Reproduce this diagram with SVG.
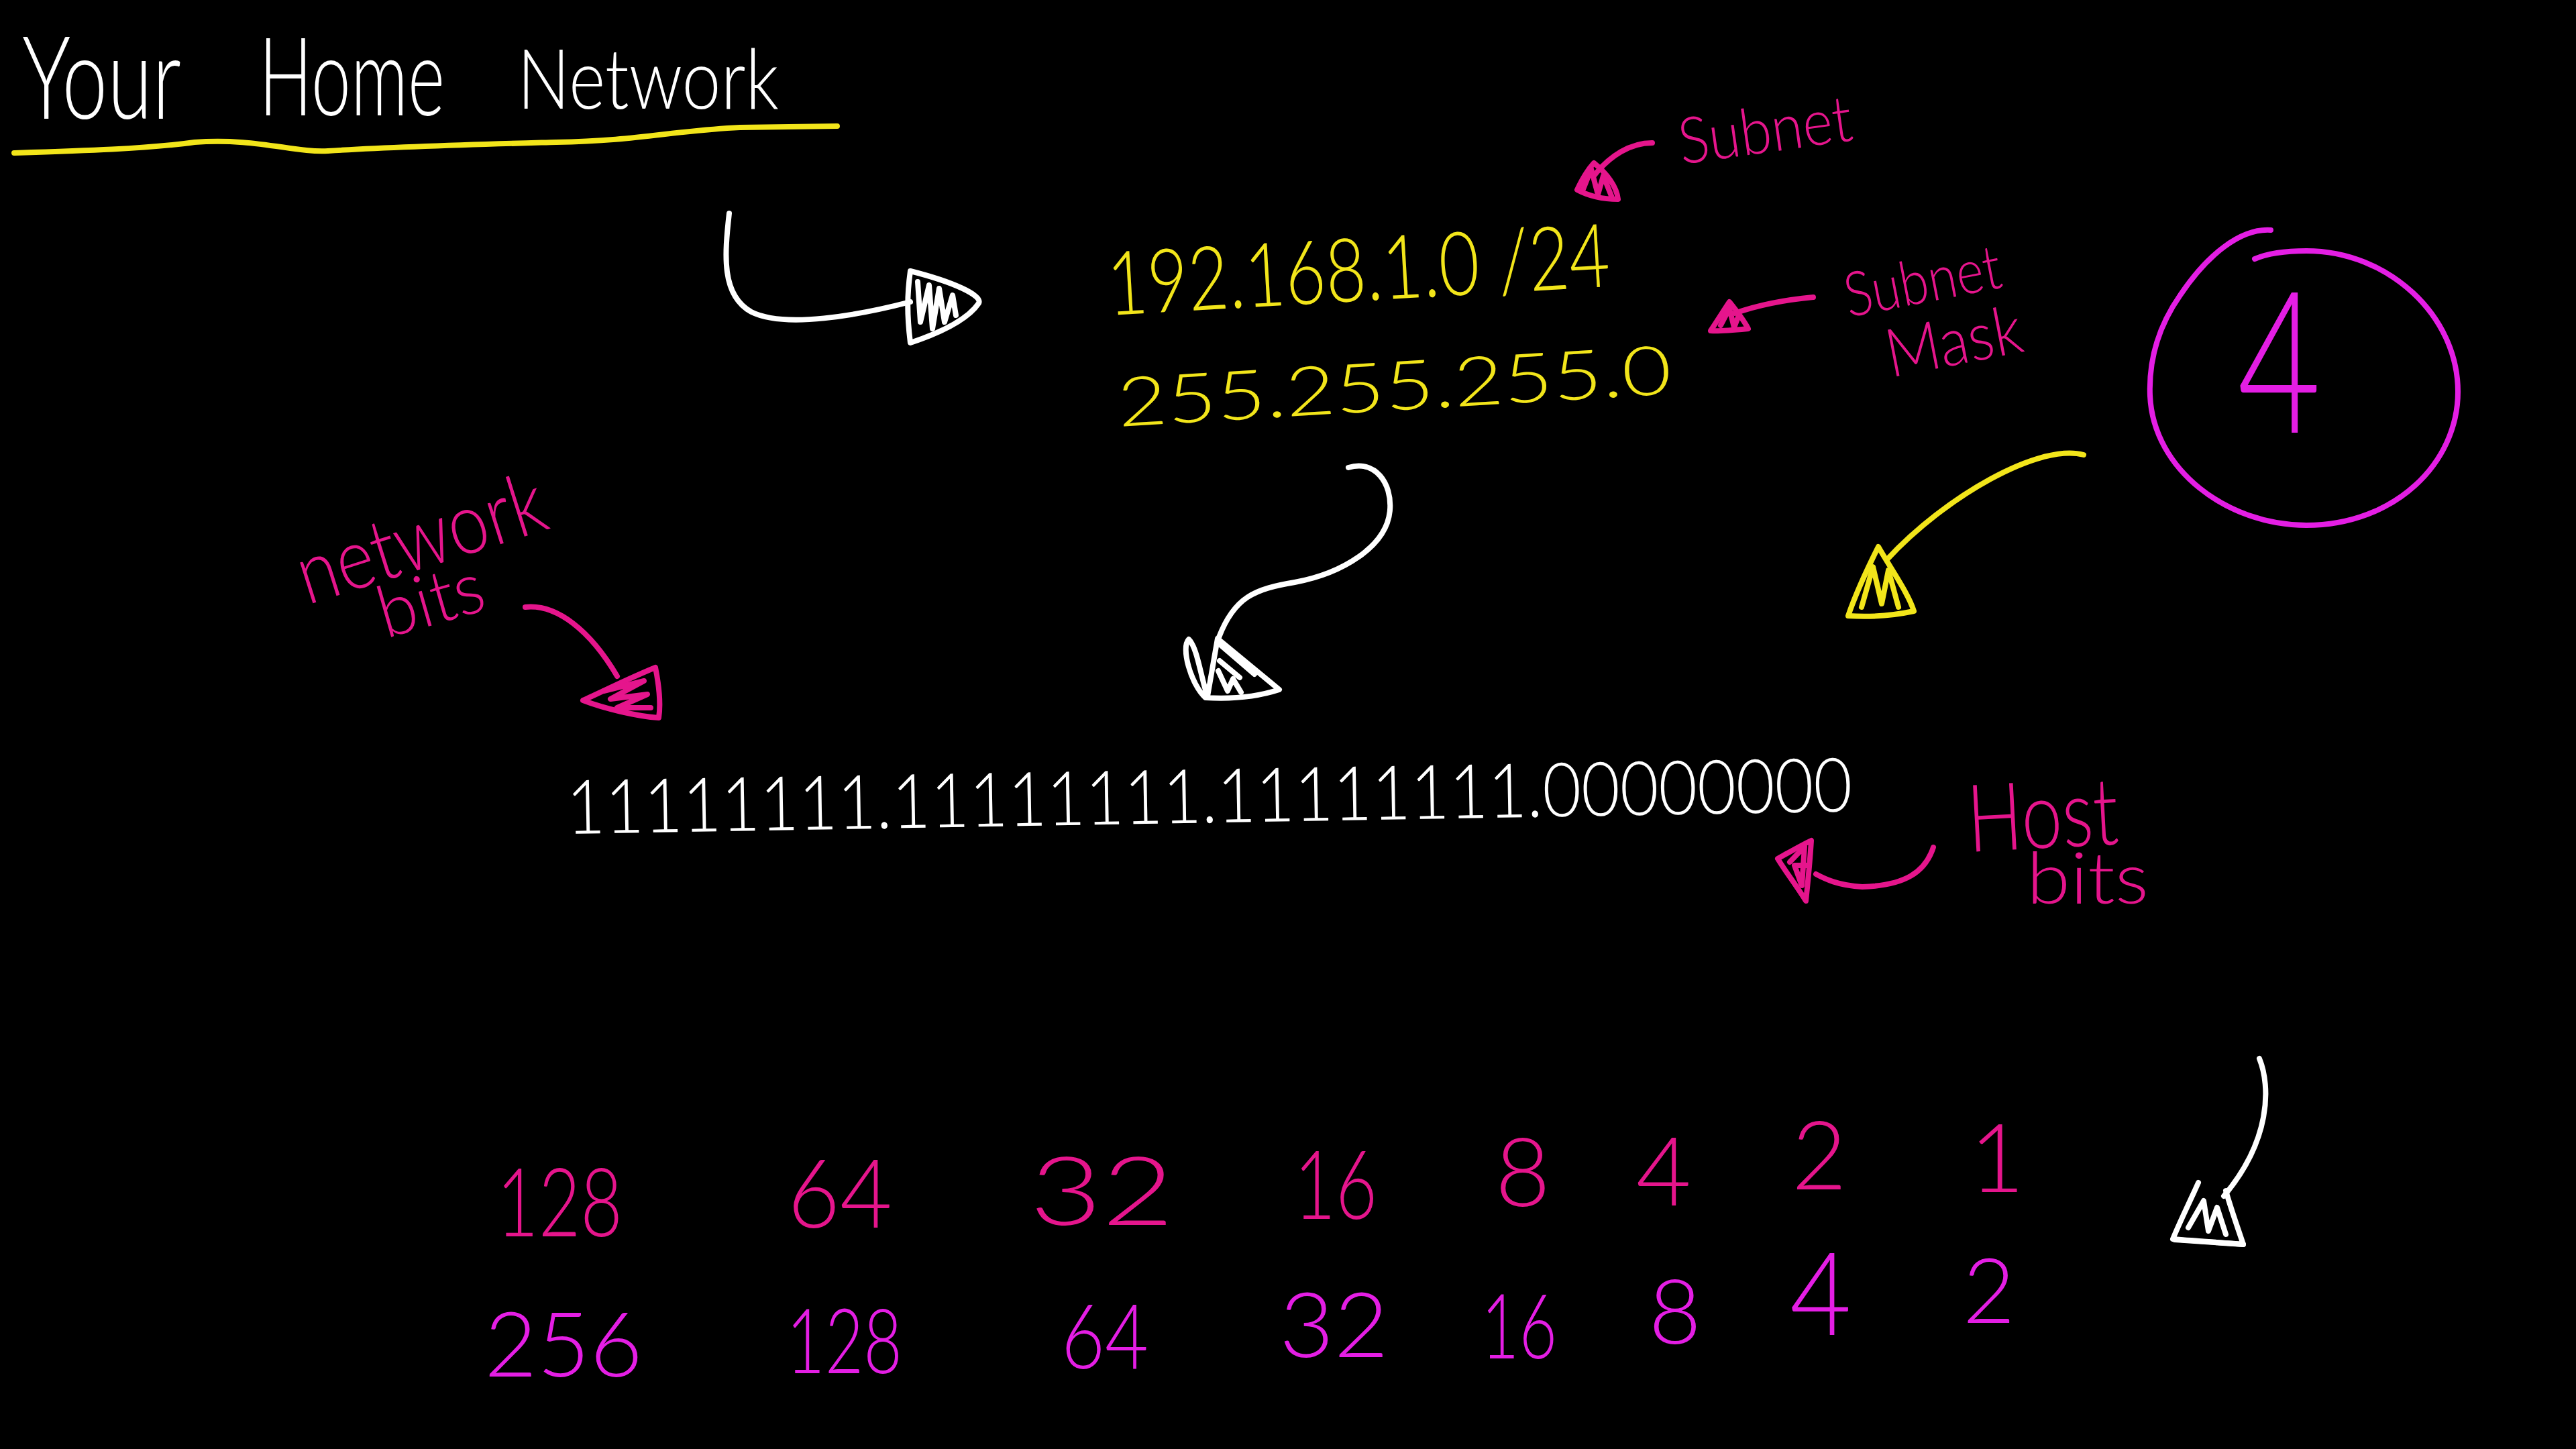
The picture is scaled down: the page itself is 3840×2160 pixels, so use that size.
<svg xmlns="http://www.w3.org/2000/svg" width="3840" height="2160" viewBox="0 0 3840 2160">
<style>
.hand{font-family:Lato,"Open Sans",Roboto,"Liberation Sans",sans-serif;font-weight:300;}
.w{fill:#ffffff}
.y{fill:#f2e51a}
.p{fill:#e5158c}
.m{fill:#e41ee4}
.s{fill:none;stroke-linecap:round;stroke-linejoin:round;stroke-width:8}
.sw{stroke:#ffffff}
.sy{stroke:#f2e51a}
.sp{stroke:#e5158c}
.sm{stroke:#e41ee4}
</style>
<rect width="3840" height="2160" fill="#000000"/>

<g id="title">
<text class="hand w" x="33" y="177" font-size="172" textLength="237" lengthAdjust="spacingAndGlyphs">Your</text>
<text class="hand w" x="386" y="172" font-size="162" textLength="277" lengthAdjust="spacingAndGlyphs">Home</text>
<text class="hand w" x="771" y="162" font-size="124" textLength="390" lengthAdjust="spacingAndGlyphs">Network</text>
<path class="s sy" stroke-width="12" d="M21,228 C120,225 220,222 290,212 C380,205 440,228 489,225 C600,218 720,215 829,212 C950,210 1000,195 1103,190 L1248,188"/>
</g>

<g id="ip-address">
<text class="hand y" x="1653" y="470" font-size="132" textLength="750" lengthAdjust="spacingAndGlyphs" transform="rotate(-3.3 1653 470)">192.168.1.0 /24</text>
</g>

<g id="subnet-mask-value">
<text class="hand y" x="1668" y="636" font-size="102" textLength="827" lengthAdjust="spacingAndGlyphs" transform="rotate(-3.4 1668 636)">255.255.255.0</text>
</g>

<g id="label-subnet">
<text class="hand p" x="2507" y="245" font-size="96" textLength="260" lengthAdjust="spacingAndGlyphs" transform="rotate(-8 2507 245)">Subnet</text>
</g>

<g id="label-subnet-mask">
<text class="hand p" font-size="92" transform="rotate(-11 2756 473)"><tspan x="2756" y="473" textLength="236" lengthAdjust="spacingAndGlyphs">Subnet</tspan><tspan x="2800" y="573" font-size="100" textLength="205" lengthAdjust="spacingAndGlyphs">Mask</tspan></text>
</g>

<g id="circle-4">
<path class="s sm" stroke-width="10" d="M3385,343 C3340,340 3290,380 3250,440 C3215,490 3203,540 3205,590 C3210,700 3320,783 3438,783 C3570,783 3664,690 3664,584 C3664,470 3560,374 3438,374 C3400,374 3375,380 3361,386"/>
<text class="hand m" x="3335" y="645" font-size="295" font-weight="100" textLength="125" lengthAdjust="spacingAndGlyphs">4</text>
</g>

<g id="label-network-bits">
<text class="hand p" x="458" y="902" font-size="128" textLength="382" lengthAdjust="spacingAndGlyphs" transform="rotate(-17.5 458 902)">network</text>
<text class="hand p" x="575" y="952" font-size="108" textLength="160" lengthAdjust="spacingAndGlyphs" transform="rotate(-16 575 952)">bits</text>
</g>

<g id="binary-mask">
<text class="hand w" x="845" y="1243" font-size="112" textLength="1917" lengthAdjust="spacingAndGlyphs" transform="rotate(-1 845 1243)">11111111.11111111.11111111.00000000</text>
</g>

<g id="label-host-bits">
<text class="hand p" x="2935" y="1270" font-size="140" textLength="225" lengthAdjust="spacingAndGlyphs" transform="rotate(-3 2935 1270)">Host</text>
<text class="hand p" x="3021" y="1347" font-size="106" textLength="182" lengthAdjust="spacingAndGlyphs">bits</text>
</g>

<g id="row-powers" class="hand p" font-size="142">
<text x="740" y="1843" textLength="188" lengthAdjust="spacingAndGlyphs">128</text>
<text x="1174" y="1830" textLength="156" lengthAdjust="spacingAndGlyphs">64</text>
<text x="1535" y="1826" textLength="215" lengthAdjust="spacingAndGlyphs">32</text>
<text x="1929" y="1817" textLength="124" lengthAdjust="spacingAndGlyphs">16</text>
<text x="2270" y="1798" text-anchor="middle">8</text>
<text x="2480" y="1797" text-anchor="middle">4</text>
<text x="2712" y="1773" text-anchor="middle">2</text>
<text x="2977" y="1777" text-anchor="middle">1</text>
</g>

<g id="row-doubled" class="hand m" font-size="135">
<text x="722" y="2052" textLength="236" lengthAdjust="spacingAndGlyphs">256</text>
<text x="1172" y="2047" textLength="173" lengthAdjust="spacingAndGlyphs">128</text>
<text x="1582" y="2040" textLength="130" lengthAdjust="spacingAndGlyphs">64</text>
<text x="1907" y="2023" textLength="163" lengthAdjust="spacingAndGlyphs">32</text>
<text x="2208" y="2025" textLength="113" lengthAdjust="spacingAndGlyphs">16</text>
<text x="2497" y="2003" text-anchor="middle">8</text>
<text x="2668" y="1990" font-size="172" textLength="92" lengthAdjust="spacingAndGlyphs">4</text>
<text x="2965" y="1972" text-anchor="middle">2</text>
</g>

<g id="connectors">
<!-- white arrow to IP -->
<path class="s sw" d="M1087,318 C1080,380 1075,440 1120,465 C1170,490 1280,470 1357,450"/>
<path class="s sw" d="M1357,404 C1420,420 1465,440 1459,452 C1440,480 1390,500 1357,511 C1352,470 1352,440 1357,404 Z"/>
<path class="s sw" stroke-width="6" d="M1368,420 L1372,480 L1385,425 L1390,490 L1400,430 L1408,480 L1420,440 L1425,470"/>

<!-- white arrow from masks to binary -->
<path class="s sw" d="M2010,697 C2050,685 2075,720 2072,760 C2068,815 2000,855 1930,868 C1870,878 1840,890 1817,950"/>
<path class="s sw" d="M1815,952 L1907,1028 C1870,1040 1830,1042 1797,1040 C1775,1020 1760,965 1772,953 C1785,965 1790,1010 1800,1038 Z"/>
<path class="s sw" stroke-width="6" d="M1820,962 L1870,1005 M1818,985 L1848,1010 M1816,1000 L1830,1030 L1838,1012 L1850,1032"/>

<!-- pink arrow network bits -->
<path class="s sp" d="M783,905 C830,900 880,940 920,1008"/>
<path class="s sp" d="M977,995 C982,1020 985,1050 982,1070 C950,1068 900,1056 869,1044 C900,1030 940,1010 977,995 Z"/>
<path class="s sp" stroke-width="7" d="M900,1030 L960,1015 L910,1042 L965,1035 L920,1055 L970,1055"/>

<!-- pink arrow subnet -->
<path class="s sp" d="M2463,213 C2430,213 2400,232 2376,262"/>
<path class="s sp" d="M2376,243 C2395,258 2410,278 2412,297 C2390,297 2368,292 2351,283 C2358,268 2366,254 2376,243 Z"/>
<path class="s sp" stroke-width="7" d="M2360,282 L2372,252 L2382,290 L2390,262 L2402,292"/>

<!-- pink arrow subnet mask -->
<path class="s sp" d="M2703,443 C2660,447 2620,455 2586,467"/>
<path class="s sp" d="M2578,450 C2590,465 2600,478 2606,490 C2585,492 2565,494 2550,493 C2560,478 2570,462 2578,450 Z"/>
<path class="s sp" stroke-width="7" d="M2565,485 L2578,460 L2585,488 L2592,470"/>

<!-- yellow arrow from circle -->
<path class="s sy" d="M3106,678 C3040,660 2900,740 2813,834"/>
<path class="s sy" d="M2800,815 C2820,850 2845,885 2853,911 C2820,918 2785,920 2755,918 C2768,880 2785,845 2800,815 Z"/>
<path class="s sy" stroke-width="7" d="M2775,905 L2792,845 L2805,900 L2815,850 L2830,905"/>

<!-- pink arrow host bits -->
<path class="s sp" d="M2882,1263 C2870,1300 2840,1320 2776,1322 C2740,1320 2720,1310 2707,1303"/>
<path class="s sp" d="M2650,1280 C2668,1270 2685,1260 2700,1253 C2698,1285 2695,1315 2692,1343 C2678,1320 2662,1300 2650,1280 Z"/>
<path class="s sp" stroke-width="7" d="M2668,1285 L2690,1262 L2686,1320 L2675,1290 L2695,1290"/>

<!-- white arrow bottom right -->
<path class="s sw" d="M3368,1578 C3385,1620 3385,1700 3315,1783"/>
<path class="s sw" d="M3277,1763 C3265,1790 3250,1820 3239,1847 C3275,1850 3310,1852 3344,1855 C3335,1828 3325,1800 3318,1775"/>
<path class="s sw" stroke-width="6" d="M3262,1830 L3285,1790 L3292,1835 L3305,1800 L3318,1840"/>
<path class="s sw" stroke-width="10" d="M3242,1848 L3344,1855"/>
</g>
</svg>
